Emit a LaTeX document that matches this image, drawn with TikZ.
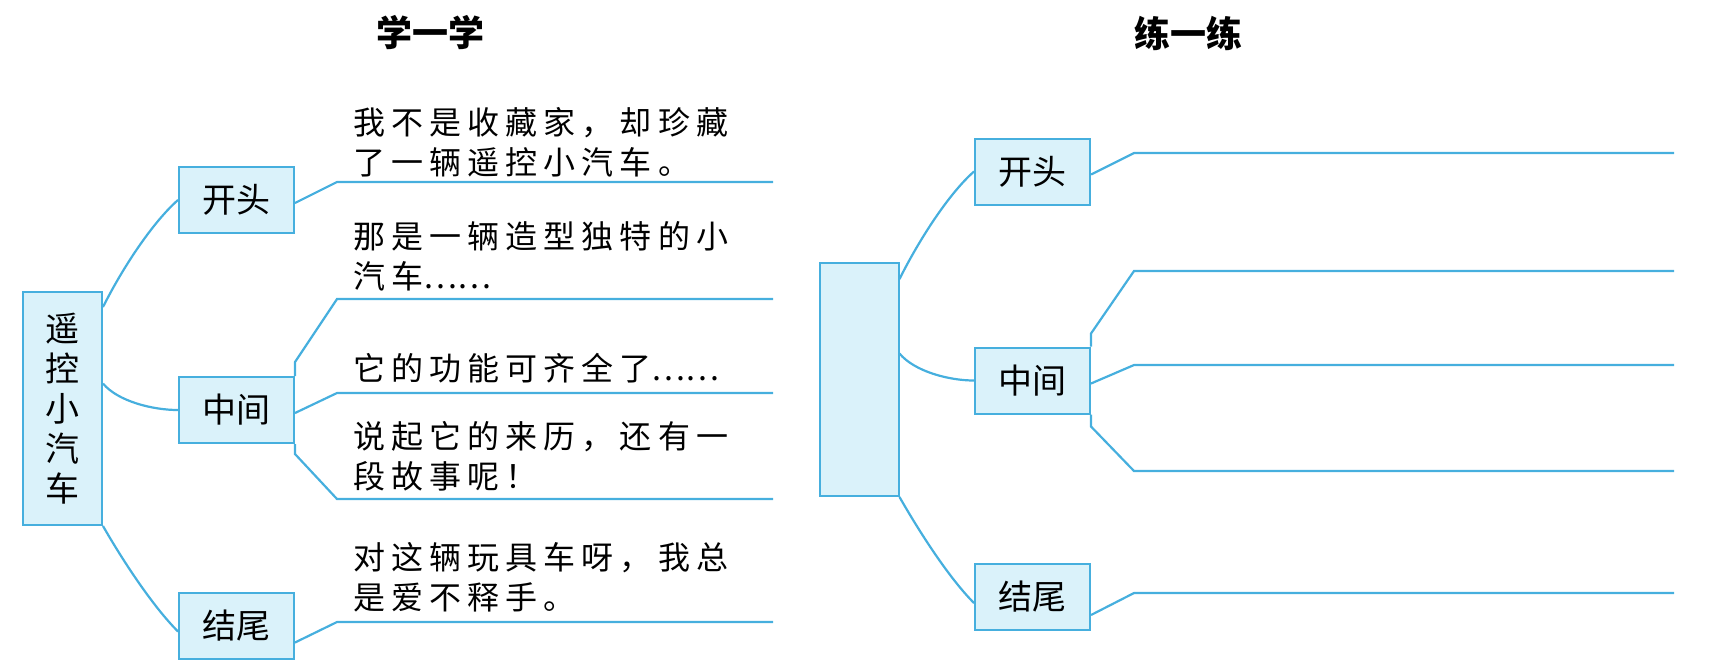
\documentclass[tikz,border=0pt]{standalone}
\usepackage{fontspec}
\usepackage{tikz}
\usetikzlibrary{positioning, calc}
\newfontfamily\cjk{Noto Sans CJK SC}
\newfontfamily\cjkkai[LetterSpace=19]{Noto Sans CJK SC}
\definecolor{mapblue}{RGB}{70,175,222}
\definecolor{mapfill}{RGB}{218,242,250}
\newcommand{\dotsrow}{{\cjk ……}}
\tikzset{
  topic/.style={rectangle, draw=mapblue, fill=mapfill, line width=1pt,
    minimum width=39.5pt, minimum height=116.5pt, inner sep=0pt,
    font=\cjk\fontsize{17}{20}\selectfont, align=center},
  part/.style={rectangle, draw=mapblue, fill=mapfill, line width=1pt,
    minimum width=57.5pt, minimum height=33pt, inner sep=0pt,
    font=\cjk\fontsize{17}{20}\selectfont},
  note/.style={anchor=west, inner sep=0pt, align=left,
    font=\cjkkai\fontsize{16}{20}\selectfont},
  heading/.style={font=\cjk\bfseries\fontsize{18}{20}\selectfont},
  branch/.style={draw=mapblue, line width=1.1pt}
}

\begin{document}
\begin{tikzpicture}[x=0.5pt, y=-0.5pt]
  \useasboundingbox (0,0) rectangle (1728,661);

  % left map
  \node[heading] (learn) at (430,33) {学一学};
  \node[topic] (car) at (62.5,408.5) {遥\\控\\小\\汽\\车};
  \node[part] (start) at (236.5,200) {开头};
  \node[part] (middle) at (236.5,410) {中间};
  \node[part] (finish) at (236.5,625.5) {结尾};

  \draw[branch] ($(car.north east)+(0,16)$) .. controls +(20,-40) and +(-25,22) .. (start.west);
  \draw[branch] ($(car.east)+(0,-25)$) .. controls +(15,18) and +(-25,0) .. (middle.west);
  \draw[branch] (car.south east) .. controls +(20,35) and +(-25,-25) .. ($(finish.west)+(0,6)$);

  \coordinate (a1) at (337,182); \coordinate (b1) at (773,182);
  \coordinate (a2) at (337,299); \coordinate (b2) at (773,299);
  \coordinate (a3) at (337,393); \coordinate (b3) at (773,393);
  \coordinate (a4) at (337,499); \coordinate (b4) at (773,499);
  \coordinate (a5) at (337,622); \coordinate (b5) at (773,622);

  \draw[branch] ($(start.east)+(0,3)$) -- (a1) -- (b1);
  \draw[branch] (middle.north east) -- ++(0,-14) -- (a2) -- (b2);
  \draw[branch] ($(middle.east)+(0,3)$) -- (a3) -- (b3);
  \draw[branch] (middle.south east) -- ++(0,10) -- (a4) -- (b4);
  \draw[branch] ($(finish.east)+(0,17)$) -- (a5) -- (b5);

  \node[note] (t1) at (353,142) {我不是收藏家，却珍藏\\了一辆遥控小汽车。};
  \node[note] (t2) at (353,256) {那是一辆造型独特的小\\汽车\dotsrow};
  \node[note] (t3) at (353,368) {它的功能可齐全了\dotsrow};
  \node[note] (t4) at (353,456) {说起它的来历，还有一\\段故事呢！};
  \node[note] (t5) at (353,577) {对这辆玩具车呀，我总\\是爱不释手。};

  % right map
  \node[heading] (practice) at (1188,33) {练一练};
  \node[topic] (blank) at (859,379.5) {};
  \node[part] (start2) at (1032.5,171.5) {开头};
  \node[part] (middle2) at (1032.5,380.5) {中间};
  \node[part] (finish2) at (1032.5,597) {结尾};

  \draw[branch] ($(blank.north east)+(0,17)$) .. controls +(20,-40) and +(-25,22) .. (start2.west);
  \draw[branch] ($(blank.east)+(0,-26)$) .. controls +(15,18) and +(-25,0) .. (middle2.west);
  \draw[branch] (blank.south east) .. controls +(20,35) and +(-25,-25) .. ($(finish2.west)+(0,6)$);

  \coordinate (c1) at (1134,153); \coordinate (d1) at (1674,153);
  \coordinate (c2) at (1134,271); \coordinate (d2) at (1674,271);
  \coordinate (c3) at (1134,365); \coordinate (d3) at (1674,365);
  \coordinate (c4) at (1134,471); \coordinate (d4) at (1674,471);
  \coordinate (c5) at (1134,593); \coordinate (d5) at (1674,593);

  \draw[branch] ($(start2.east)+(0,3)$) -- (c1) -- (d1);
  \draw[branch] (middle2.north east) -- ++(0,-13) -- (c2) -- (d2);
  \draw[branch] ($(middle2.east)+(0,3)$) -- (c3) -- (d3);
  \draw[branch] (middle2.south east) -- ++(0,12) -- (c4) -- (d4);
  \draw[branch] ($(finish2.east)+(0,18)$) -- (c5) -- (d5);
\end{tikzpicture}
\end{document}
